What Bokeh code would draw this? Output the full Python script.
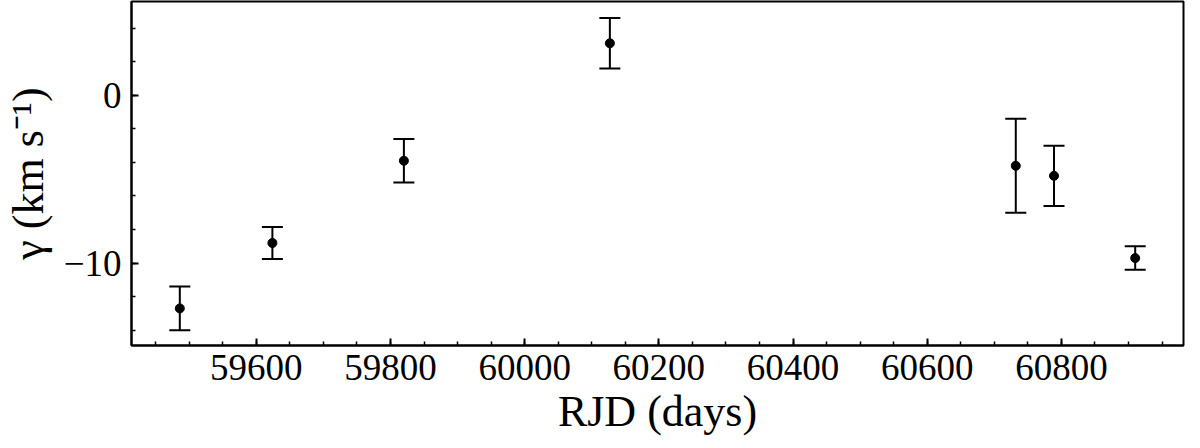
from bokeh.plotting import figure
from bokeh.models import (ColumnDataSource, Whisker, TeeHead, Range1d,
                          SingleIntervalTicker, CustomJSTickFormatter, BasicTickFormatter)
from bokeh.embed import file_html
from bokeh.resources import INLINE

# Data
rjd = [59486, 59624, 59820, 60127, 60732, 60789, 60910]
gamma = [-12.7, -8.8, -3.9, 3.1, -4.2, -4.8, -9.7]
gamma_err = [1.3, 0.95, 1.3, 1.5, 2.8, 1.8, 0.7]

x_label = "RJD (days)"
y_label = "γ (km s⁻¹)"

lower = [g - e for g, e in zip(gamma, gamma_err)]
upper = [g + e for g, e in zip(gamma, gamma_err)]
src = ColumnDataSource(data=dict(x=rjd, y=gamma, lower=lower, upper=upper))

FONT = "Liberation Serif"

p = figure(output_backend="svg", toolbar_location=None,
           frame_width=1052, frame_height=344,
           min_border_left=130, min_border_right=2, min_border_top=1, min_border_bottom=87,
           x_range=Range1d(59414, 60982), y_range=Range1d(-14.91, 5.59))

p.grid.visible = False
p.background_fill_color = "white"
p.border_fill_color = "white"
p.outline_line_color = "black"
p.outline_line_width = 2

wh = Whisker(source=src, base="x", lower="lower", upper="upper",
             line_color="black", line_width=2,
             upper_head=TeeHead(size=21, line_width=2, line_color="black"),
             lower_head=TeeHead(size=21, line_width=2, line_color="black"))
p.add_layout(wh)
p.scatter("x", "y", source=src, size=9, color="black")

p.xaxis.ticker = SingleIntervalTicker(interval=200, num_minor_ticks=4)
p.yaxis.ticker = SingleIntervalTicker(interval=10, num_minor_ticks=5)
p.xaxis.formatter = BasicTickFormatter(use_scientific=False)
p.yaxis.formatter = CustomJSTickFormatter(
    code='return tick < 0 ? "\u2212" + Math.abs(tick) : tick.toString();')

for ax in (p.xaxis[0], p.yaxis[0]):
    ax.axis_line_width = 2
    ax.axis_line_color = "black"
    ax.major_tick_in = 7
    ax.major_tick_out = 0
    ax.minor_tick_in = 4
    ax.minor_tick_out = 0
    ax.major_tick_line_width = 2
    ax.minor_tick_line_width = 1.5
    ax.major_label_text_font = FONT
    ax.major_label_text_font_size = "37px"
    ax.major_label_text_color = "black"
    ax.axis_label_text_font = FONT
    ax.axis_label_text_font_size = "44px"
    ax.axis_label_text_font_style = "normal"
    ax.axis_label_text_color = "black"

p.xaxis.axis_label = x_label
p.yaxis.axis_label = y_label
p.xaxis.major_label_standoff = 9
p.xaxis.axis_label_standoff = 4
p.yaxis.major_label_standoff = 10
p.yaxis.axis_label_standoff = 8

open("out.html", "w").write(file_html(p, INLINE))
